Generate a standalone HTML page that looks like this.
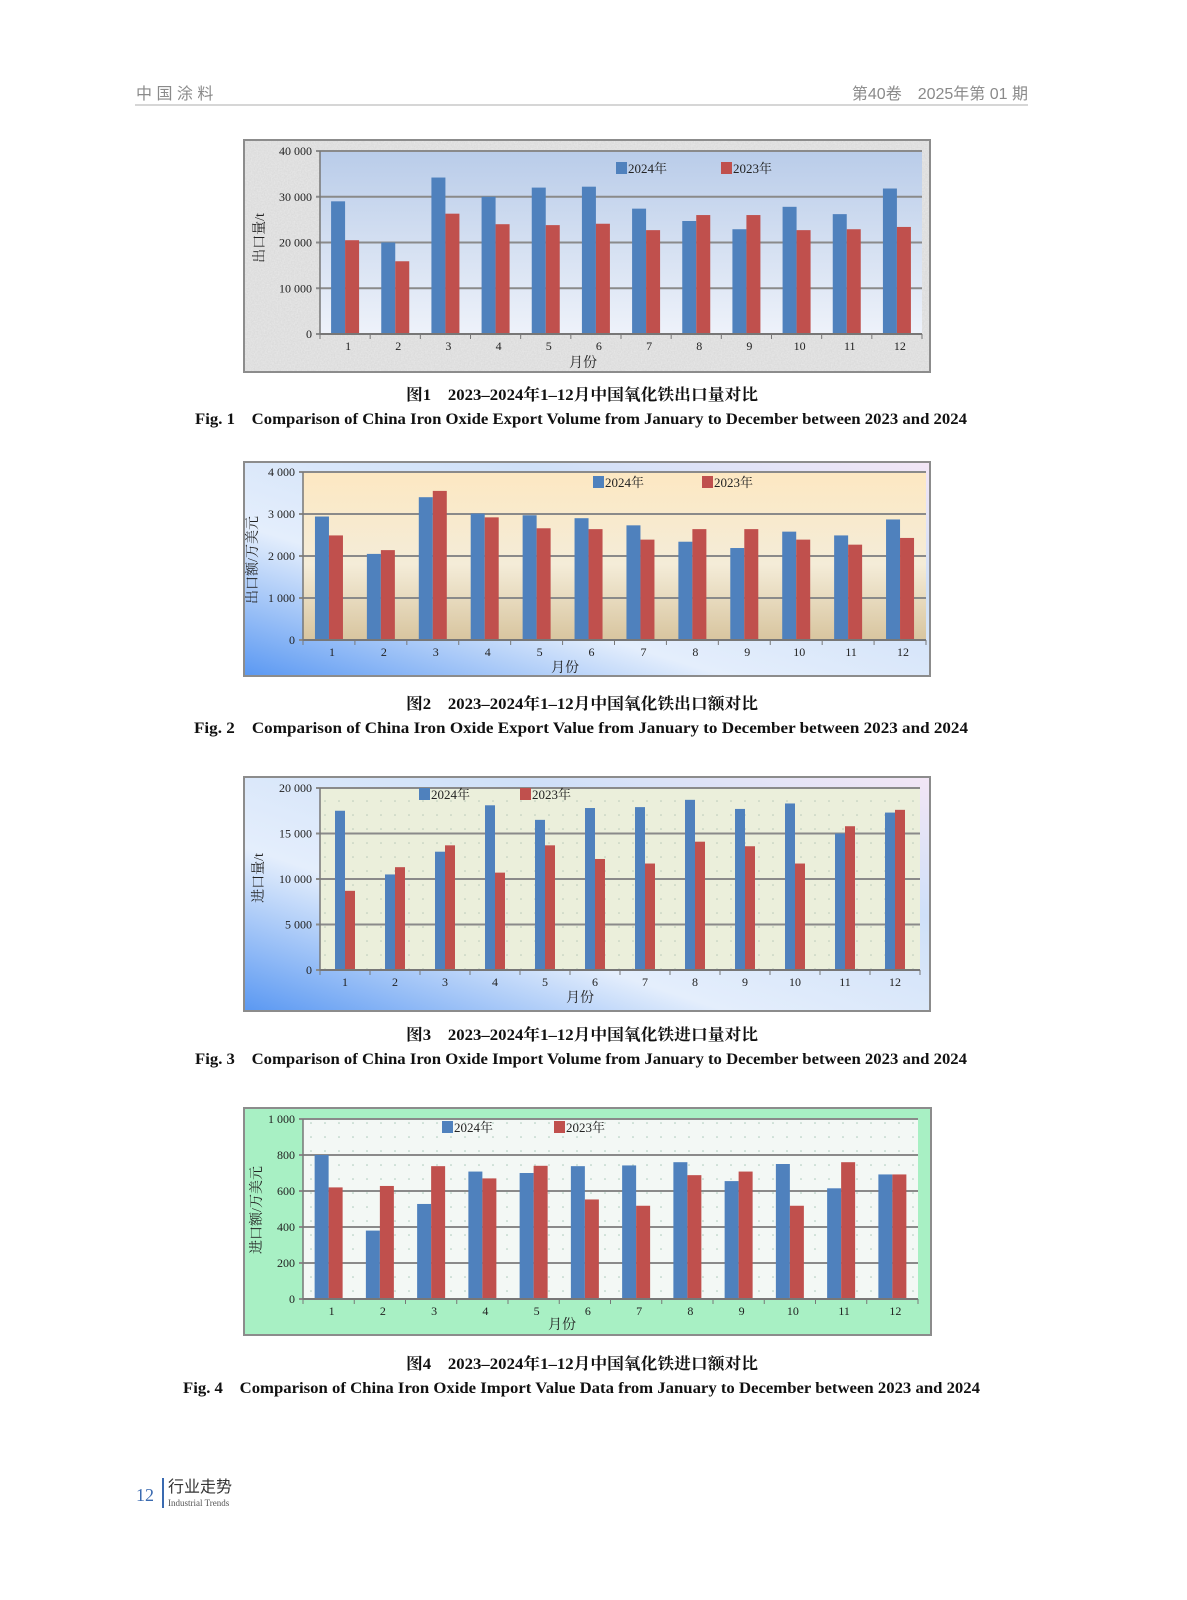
<!DOCTYPE html>
<html><head><meta charset="utf-8">
<style>
html,body{margin:0;padding:0;background:#fff;}
svg{display:block;}
text{font-family:"Liberation Serif","Noto Serif CJK SC",serif;}
.cjk{font-family:"Liberation Sans","Noto Sans CJK SC",sans-serif;}
</style></head>
<body>
<svg id="s" xmlns="http://www.w3.org/2000/svg" width="1187" height="1600" viewBox="0 0 1187 1600">
<defs>
<linearGradient id="g1" x1="0" y1="0" x2="0" y2="1"><stop offset="0" stop-color="#b9cce9"/><stop offset="1" stop-color="#eef2fa"/></linearGradient>
<linearGradient id="g2" x1="0" y1="0" x2="0" y2="1"><stop offset="0" stop-color="#fde8c2"/><stop offset="0.55" stop-color="#f4ecd8"/><stop offset="1" stop-color="#d8c59f"/></linearGradient>
<linearGradient id="fb" x1="0" y1="1" x2="1" y2="0"><stop offset="0" stop-color="#5a98f2"/><stop offset="0.35" stop-color="#e4eefc"/><stop offset="0.7" stop-color="#cfe0f8"/><stop offset="1" stop-color="#f3e6f6"/></linearGradient>
<pattern id="dots" width="14" height="14" patternUnits="userSpaceOnUse"><circle cx="3" cy="3" r="0.8" fill="#b8c8b8"/></pattern>
<pattern id="dots2" width="14" height="14" patternUnits="userSpaceOnUse"><circle cx="3" cy="3" r="0.8" fill="#a8c8b8"/></pattern>
<filter id="noise" filterUnits="userSpaceOnUse" x="244" y="140" width="686" height="232"><feTurbulence type="fractalNoise" baseFrequency="0.7" numOctaves="2"/><feColorMatrix type="matrix" values="0 0 0 0 0.7  0 0 0 0 0.7  0 0 0 0 0.7  0 0 0 -1.6 1.3"/></filter>
</defs>
<g id="root"></g>
</svg>
<script>
var R=document.getElementById('root'),h='';
function t(x,y,s,sz,o){o=o||{};h+='<text x="'+x+'" y="'+y+'" font-size="'+sz+'"'+(o.a?' text-anchor="'+o.a+'"':'')+(o.w?' font-weight="bold"':'')+(o.c?' fill="'+o.c+'"':'')+(o.tl?' textLength="'+o.tl+'" lengthAdjust="spacingAndGlyphs"':'')+(o.cls?' class="'+o.cls+'"':'')+(o.tr?' transform="'+o.tr+'"':'')+'>'+s+'</text>';}
t(136,99,'中 国 涂 料',16,{c:'#8a8a8a',cls:'cjk'});
t(1028,99,'第40卷　2025年第 01 期',16,{a:'end',c:'#8a8a8a',cls:'cjk'});
h+='<rect x="135" y="104" width="893" height="2" fill="#d6d6d6"/>';
function chart(c){
  var F=c.frame;
  h+='<rect x="'+F[0]+'" y="'+F[1]+'" width="'+(F[2]-F[0])+'" height="'+(F[3]-F[1])+'" fill="'+c.fbg+'"/>';
  if(c.noise) h+='<rect x="'+F[0]+'" y="'+F[1]+'" width="'+(F[2]-F[0])+'" height="'+(F[3]-F[1])+'" filter="url(#noise)"/>';
  h+='<rect x="'+F[0]+'" y="'+F[1]+'" width="'+(F[2]-F[0])+'" height="'+(F[3]-F[1])+'" fill="none" stroke="#8c8c8c" stroke-width="2"/>';
  var L=c.l,Rr=c.r,T=c.top,B=c.bot;
  h+='<rect x="'+L+'" y="'+T+'" width="'+(Rr-L)+'" height="'+(B-T)+'" fill="'+c.pbg+'"/>';
  if(c.pdots) h+='<rect x="'+L+'" y="'+T+'" width="'+(Rr-L)+'" height="'+(B-T)+'" fill="url(#'+c.pdots+')"/>';
  for(var i=0;i<c.ticks.length;i++){var y=B-(B-T)*i/(c.ticks.length-1);
    h+='<line x1="'+(L-4)+'" y1="'+y+'" x2="'+Rr+'" y2="'+y+'" stroke="#8a8a8a" stroke-width="2"/>';
    t(L-8,y+4,c.ticks[i],12,{a:'end',c:'#222'});}
  var cw=(Rr-L)/12,bw=c.bw,mx=c.max;
  for(var m=0;m<12;m++){var cx=L+cw*(m+0.5);
    var a=c.d24[m],b=c.d23[m];
    var ya=B-(B-T)*a/mx,yb=B-(B-T)*b/mx;
    h+='<rect x="'+(cx-bw)+'" y="'+ya+'" width="'+bw+'" height="'+(B-ya)+'" fill="#4f81bd"/>';
    h+='<rect x="'+cx+'" y="'+yb+'" width="'+bw+'" height="'+(B-yb)+'" fill="#c0504d"/>';
    t(cx+c.lo,B+16,m+1,12,{a:'middle',c:'#222'});
    h+='<line x1="'+(L+cw*m)+'" y1="'+B+'" x2="'+(L+cw*m)+'" y2="'+(B+5)+'" stroke="#777"/>';
  }
  h+='<line x1="'+Rr+'" y1="'+B+'" x2="'+Rr+'" y2="'+(B+5)+'" stroke="#777"/>';
  h+='<line x1="'+L+'" y1="'+T+'" x2="'+L+'" y2="'+B+'" stroke="#777" stroke-width="1.5"/>';
  h+='<line x1="'+L+'" y1="'+B+'" x2="'+Rr+'" y2="'+B+'" stroke="#777" stroke-width="2"/>';
  t(c.xl[0],c.xl[1],'月份',14,{a:'middle',c:'#222'});
  t(0,0,c.yt,14,{a:'middle',c:'#222',tr:'translate('+c.yl[0]+','+c.yl[1]+') rotate(-90)'});
  h+='<rect x="'+c.lg[0]+'" y="'+(c.lg[2]-6)+'" width="11" height="12" fill="#4f81bd"/>';
  t(c.lg[0]+12,c.lg[2]+5,'2024年',13,{c:'#222'});
  h+='<rect x="'+c.lg[1]+'" y="'+(c.lg[2]-6)+'" width="11" height="12" fill="#c0504d"/>';
  t(c.lg[1]+12,c.lg[2]+5,'2023年',13,{c:'#222'});
  t(582,c.cap+2,c.c1,16,{a:'middle',w:1,c:'#111',tl:c.c1l});
  t(c.c2x,c.cap+26,c.c2,16,{w:1,c:'#111',tl:c.c2l});
}
chart({frame:[244,140,930,372],fbg:'#e6e6e6',noise:1,l:320,r:922,top:151,bot:334,pbg:'url(#g1)',
 ticks:['0','10 000','20 000','30 000','40 000'],max:40000,bw:14,lo:3,
 d24:[29000,20000,34200,30000,32000,32200,27400,24700,22900,27800,26200,31800],
 d23:[20500,15900,26300,24000,23800,24100,22700,26000,26000,22700,22900,23400],
 xl:[583,367],yl:[264,238],yt:'出口量/t',lg:[616,721,168],
 cap:398,c1:'图1　2023–2024年1–12月中国氧化铁出口量对比',c1l:352,
 c2x:195,c2:'Fig. 1　Comparison of China Iron Oxide Export Volume from January to December between 2023 and 2024',c2l:772});
chart({frame:[244,462,930,676],fbg:'url(#fb)',l:303,r:926,top:472,bot:640,pbg:'url(#g2)',
 ticks:['0','1 000','2 000','3 000','4 000'],max:4000,bw:14,lo:3,
 d24:[2940,2050,3400,3010,2970,2900,2730,2340,2190,2580,2490,2870],
 d23:[2490,2140,3550,2920,2660,2640,2390,2640,2640,2390,2270,2430],
 xl:[565,672],yl:[257,560],yt:'出口额/万美元',lg:[593,702,482],
 cap:707,c1:'图2　2023–2024年1–12月中国氧化铁出口额对比',c1l:352,
 c2x:194,c2:'Fig. 2　Comparison of China Iron Oxide Export Value from January to December between 2023 and 2024',c2l:774});
chart({frame:[244,777,930,1011],fbg:'url(#fb)',l:320,r:920,top:788,bot:970,pbg:'#ebefdb',pdots:'dots',
 ticks:['0','5 000','10 000','15 000','20 000'],max:20000,bw:10,lo:0,
 d24:[17500,10500,13000,18100,16500,17800,17900,18700,17700,18300,15000,17300],
 d23:[8700,11300,13700,10700,13700,12200,11700,14100,13600,11700,15800,17600],
 xl:[580,1002],yl:[263,878],yt:'进口量/t',lg:[419,520,794],
 cap:1038,c1:'图3　2023–2024年1–12月中国氧化铁进口量对比',c1l:352,
 c2x:195,c2:'Fig. 3　Comparison of China Iron Oxide Import Volume from January to December between 2023 and 2024',c2l:772});
chart({frame:[244,1108,931,1335],fbg:'#a8f0c4',l:303,r:918,top:1119,bot:1299,pbg:'#f3f8f5',pdots:'dots2',
 ticks:['0','200','400','600','800','1 000'],max:1000,bw:14,lo:3,
 d24:[800,380,528,708,700,738,742,760,655,750,615,692],
 d23:[620,628,738,670,740,553,518,688,708,518,760,692],
 xl:[562,1329],yl:[261,1210],yt:'进口额/万美元',lg:[442,554,1127],
 cap:1367,c1:'图4　2023–2024年1–12月中国氧化铁进口额对比',c1l:352,
 c2x:183,c2:'Fig. 4　Comparison of China Iron Oxide Import Value Data from January to December between 2023 and 2024',c2l:797});
t(136,1501,'12',18,{c:'#3a6ab0'});
h+='<rect x="162" y="1478" width="2" height="30" fill="#3a6ab0"/>';
t(168,1492,'行业走势',16,{c:'#333',cls:'cjk'});
t(168,1506,'Industrial Trends',9,{c:'#555'});
R.innerHTML=h;
</script>
</body></html>
